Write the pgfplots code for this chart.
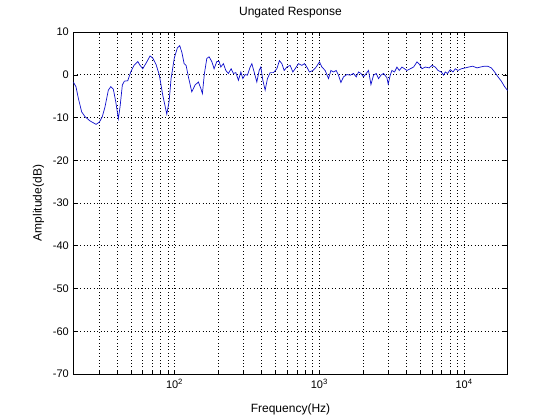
\documentclass[border=0pt]{standalone}
\usepackage{pgfplots}
\pgfplotsset{compat=1.18}
\usepackage{fontspec}
\setmainfont{Liberation Sans}
\begin{document}
\begin{tikzpicture}
\begin{axis}[
  scale only axis,
  width=434.4pt, height=342pt,
  xmode=log, log basis x=10,
  xmin=20, xmax=20000, ymin=-70, ymax=10,
  xtick={100,1000,10000},
  xticklabels={10\textsuperscript{2},10\textsuperscript{3},10\textsuperscript{4}},
  minor xtick={20,30,40,50,60,70,80,90,200,300,400,500,600,700,800,900,2000,3000,4000,5000,6000,7000,8000,9000},
  ytick={-70,-60,-50,-40,-30,-20,-10,0,10},
  yticklabels={-70,-60,-50,-40,-30,-20,-10,0,10},
  tick align=inside,
  major tick length=4.3pt, minor tick length=2.5pt,
  tick style={black, line width=0.5pt},
  xmajorgrids, xminorgrids, ymajorgrids,
  grid style={black, line width=0.6pt, dash pattern=on 0.8pt off 2.6pt},
  minor grid style={black, line width=0.6pt, dash pattern=on 0.8pt off 2.6pt},
  axis line style={black, line width=0.6pt},
  ticklabel style={font=\fontsize{11}{13}\selectfont},
  yticklabel style={inner sep=0pt, xshift=-4.3pt},
  xticklabel style={inner sep=0pt, yshift=-5pt},
  label style={font=\fontsize{12}{14}\selectfont},
  title style={font=\fontsize{12}{14}\selectfont, at={(axis description cs:0.5,1.0307)}, anchor=base},
  title={Ungated Response},
  xlabel={Frequency(Hz)},
  xlabel style={at={(axis description cs:0.5,-0.114)}, anchor=base},
  ylabel={Amplitude(dB)},
  ylabel style={at={(axis description cs:-0.0728,0.5)}, rotate=0, anchor=base},
]
\coordinate (sw) at (rel axis cs:0,0);
\addplot[color={rgb,1:red,0.05;green,0.05;blue,0.8}, line width=0.7pt, mark=none] coordinates {
(20,-1.7) (20.87,-2.8) (21.66,-5.5) (22.86,-8.7) (24.09,-9.8) (26.09,-10.8)
(28.71,-11.6) (30.25,-11.1) (31.72,-9.8) (33.12,-7.5) (34.91,-3.6) (36.27,-2.8)
(37.80,-3.4) (39.28,-6.3) (40.93,-10.3) (42.06,-7.5) (43.63,-2.4) (45.04,-1.5)
(47.54,-1.4) (49.86,0.65) (52.54,2.2) (55.74,3.1) (57.81,2.2) (60.35,1.4)
(64.33,3.0) (67.80,4.4) (70.77,3.9) (74.58,2.4) (78.60,-0.1) (82.97,-4.8)
(88.43,-9.2) (91.73,-6.3) (94.68,-0.9) (99.78,4.0) (104.7,6.3) (108.6,6.8)
(112.3,5.3) (116.5,2.6) (120.2,2.2) (124.7,-0.5) (131.6,-4.0) (138.7,-2.4)
(146.2,-1.7) (151.9,-3.2) (155.8,-4.4) (160.9,0.3) (167.1,3.8) (173.3,4.2)
(180.9,3.1) (187.7,1.4) (196.0,3.1) (203.2,3.1) (208.8,1.8) (217.6,2.6)
(226.1,1.0) (235.6,0.3) (246.0,1.4) (255.2,0.3) (265.1,0.5) (276.3,-1.3)
(287.1,0.65) (296.4,-0.9) (307.4,0.05) (318.9,-0.1) (332.9,1.8) (342.0,2.6)
(354.7,0.65) (370.3,-1.7) (384.2,1.0) (394.7,1.8) (407.4,-1.3) (422.6,-3.6)
(438.4,-0.9) (457.6,0.5) (482.3,0.5) (508.9,1.4) (530.5,3.3) (551.1,2.6)
(571.7,1.0) (596.8,1.8) (628.9,2.2) (656.6,0.65) (681.1,1.4) (717.8,2.6)
(757.6,2.2) (789.6,2.6) (820.4,1.8) (855.0,0.65) (902.6,1.0) (951.4,1.8)
(1002.6,3.0) (1041.6,1.8) (1097.8,1.0) (1157.0,-0.9) (1202.1,1.0) (1253.0,0.65)
(1308.0,1.0) (1356.8,-0.1) (1409.6,-1.8) (1469.1,-0.5) (1550.7,0.05) (1634.3,-0.1)
(1722.4,0.3) (1798.1,-0.5) (1865.2,0.65) (1938.0,0.3) (2020.0,-0.5) (2108.5,0.3)
(2187.1,1.0) (2272.3,-2.3) (2368.5,-0.1) (2472.2,0.3) (2564.4,-0.9) (2664.3,-0.1)
(2777.0,0.3) (2931.4,-0.7) (2990,-2.2) (3089,-0.1) (3173.8,1.0) (3307.8,0.65)
(3436.6,1.8) (3564.7,1.0) (3721.4,1.8) (3878.6,1.4) (4029.7,1.0) (4246.9,1.4)
(4475.8,1.8) (4724.7,3.0) (4924.8,2.4) (5116.7,1.4) (5392.5,1.8) (5746.1,1.6)
(5998,2.2) (6322,1.8) (6600,1.0) (6956,0.65) (7216,-0.1) (7413,0.65)
(7690,0.3) (8026,1.2) (8379,0.65) (8691,1.4) (9074,1.0) (9563,1.4)
(10191,1.6) (10740,1.8) (11452,2.0) (12280,1.6) (12941,1.8) (13791,2.0)
(14533,2.0) (15414,1.6) (16243,0.65) (17147,-0.5) (18071,-1.5) (19047,-2.8)
(20000,-3.7)
};
\end{axis}
\path (sw) ++(-73.3pt,-46pt) rectangle ++(560pt,420pt);
\end{tikzpicture}
\end{document}
